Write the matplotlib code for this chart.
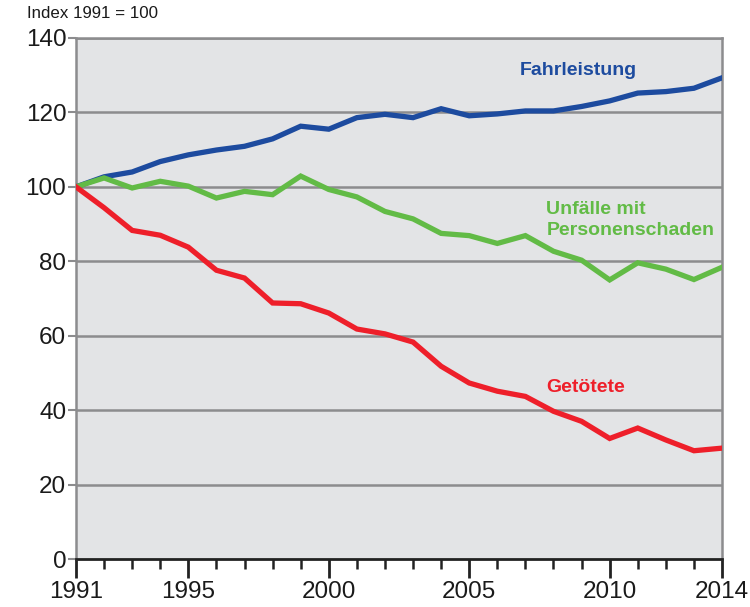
import matplotlib
matplotlib.use("Agg")
import matplotlib.pyplot as plt
from matplotlib.ticker import MultipleLocator

years = list(range(1991, 2015))
fahrleistung = [100, 102.7, 104, 106.8, 108.6, 109.9, 110.9, 112.9, 116.3, 115.5, 118.6, 119.5,
                118.6, 121, 119.1, 119.6, 120.4, 120.4, 121.6, 123.1, 125.2, 125.6, 126.5, 129.3]
unfaelle = [100, 102.4, 99.7, 101.5, 100.2, 97, 98.8, 97.9, 102.9, 99.3, 97.3, 93.4,
            91.4, 87.5, 86.9, 84.8, 86.9, 82.7, 80.3, 75, 79.6, 77.9, 75.1, 78.4]
getoetete = [100, 94.4, 88.3, 87, 83.8, 77.6, 75.5, 68.8, 68.6, 66.1, 61.8, 60.5,
             58.3, 51.8, 47.3, 45.1, 43.7, 39.7, 37, 32.4, 35.2, 32, 29.1, 29.8]
yticks = [0, 20, 40, 60, 80, 100, 120, 140]
xtick_labels = [1991, 1995, 2000, 2005, 2010, 2014]

plt.rcParams['font.family'] = ['Liberation Sans', 'DejaVu Sans']

blue = "#1d4b9f"
green = "#62bb46"
red = "#ee1f2a"
grid = "#8c8c8e"

fig = plt.figure(figsize=(7.5, 6.07), dpi=100)
ax = fig.add_axes([0.1013, 0.079, 0.8614, 0.8584])
ax.set_facecolor("#e3e4e6")

for v in yticks[1:]:
    ax.axhline(v, color=grid, lw=1.8, zorder=1)

ax.plot(years, fahrleistung, color=blue, lw=3.8, zorder=3, solid_joinstyle='miter')
ax.plot(years, unfaelle, color=green, lw=3.8, zorder=3, solid_joinstyle='miter')
ax.plot(years, getoetete, color=red, lw=3.8, zorder=3, solid_joinstyle='miter')

ax.set_xlim(1991, 2014)
ax.set_ylim(0, 140)
ax.set_yticks(yticks)
ax.set_xticks(xtick_labels)
ax.xaxis.set_minor_locator(MultipleLocator(1))

for s in ["left", "right", "top"]:
    ax.spines[s].set_color(grid)
    ax.spines[s].set_linewidth(1.8)
ax.spines["bottom"].set_color("#222222")
ax.spines["bottom"].set_linewidth(2)

ax.tick_params(axis='y', which='major', length=6, width=1.5, color=grid, pad=1,
               labelsize=17.5, labelcolor="#1a1a1a")
ax.tick_params(axis='x', which='major', length=14, width=2, color="#222222", pad=2,
               labelsize=17.5, labelcolor="#1a1a1a")
ax.tick_params(axis='x', which='minor', length=7, width=1.8, color="#222222")

ax.text(2008.9, 131.4, "Fahrleistung", color=blue, fontsize=14, fontweight='bold',
        ha='center', va='center')
ax.text(2007.75, 91.0, "Unfälle mit\nPersonenschaden", color=green, fontsize=14,
        fontweight='bold', ha='left', va='center', linespacing=1.3)
ax.text(2007.75, 46, "Getötete", color=red, fontsize=14, fontweight='bold',
        ha='left', va='center')

fig.text(27/750, 1 - 14/607, "Index 1991 = 100", fontsize=12.2, ha='left', va='center',
         color="#1a1a1a")

fig.savefig("out.png", dpi=100)
